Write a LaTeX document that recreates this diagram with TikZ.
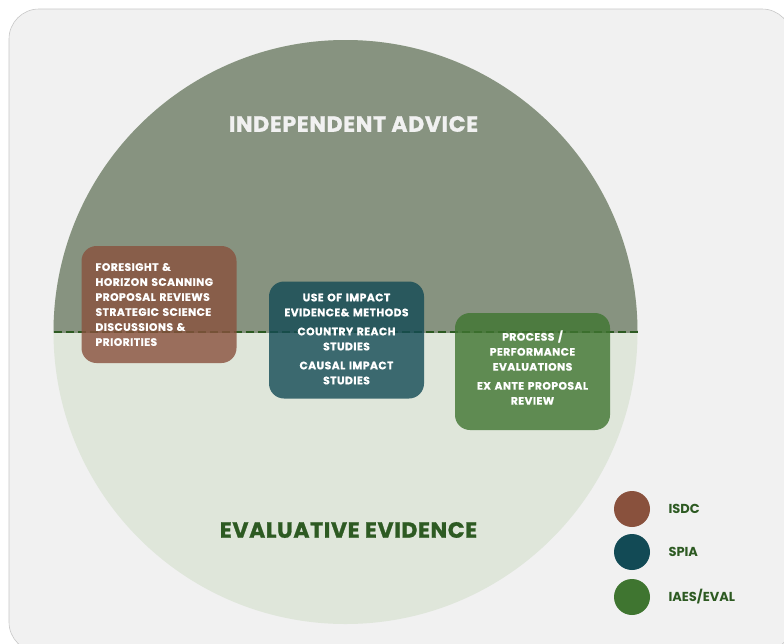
\documentclass[tikz,border=0pt]{standalone}
\usepackage{fontspec}
\setmainfont{Poppins}
\newfontfamily\boxfont[LetterSpace=4, BoldFeatures={FakeBold=0.6}]{Poppins}
\newfontfamily\heavyfont[LetterSpace=3, BoldFeatures={FakeBold=1.2}]{Poppins}
\definecolor{cardbg}{HTML}{F1F1F1}
\definecolor{cardedge}{HTML}{C8C8C8}
\definecolor{sage}{HTML}{879380}
\definecolor{palesage}{HTML}{DFE6DA}
\definecolor{deepgreen}{HTML}{2D5A22}
\definecolor{isdc}{HTML}{89513D}
\definecolor{spia}{HTML}{124A55}
\definecolor{iaes}{HTML}{3F7530}
\begin{document}
\begin{tikzpicture}[x=1pt,y=-1pt,
  box/.style={rounded corners=15pt, fill opacity=0.8,
    minimum width=155pt, minimum height=117pt},
  boxtext/.style={text=white, font=\boxfont\bfseries\fontsize{10.8}{15}\selectfont},
  heading/.style={font=\heavyfont\bfseries\fontsize{22}{24}\selectfont},
  dot/.style={circle, minimum size=36pt, inner sep=0pt},
  key/.style={anchor=west, text=deepgreen, font=\bfseries\fontsize{13}{15}\selectfont},
  divider/.style={draw=deepgreen, line width=2pt, dash pattern=on 8pt off 4pt}]
\useasboundingbox (0,0) rectangle (784,643);
\fill[white] (0,0) rectangle (784,643);
% card
\draw[cardedge, line width=0.6pt, fill=cardbg, rounded corners=30pt] (9,9) rectangle (792,652);
% the two halves of the circle
\fill[palesage] (345.5,332) circle[radius=292];
\begin{scope}
  \clip (0,0) rectangle (784,332);
  \fill[sage] (345.5,332) circle[radius=292];
\end{scope}
\coordinate (dl) at (53.5,332);
\coordinate (dr) at (637.5,332);
\draw[divider] (dl) -- (dr);
% headings
\node[heading, text=cardbg] (advice) at (353.5,124) {INDEPENDENT ADVICE};
\node[heading, text=deepgreen] (evidence) at (348.5,530) {EVALUATIVE EVIDENCE};
% boxes
\node[box, fill=isdc] (bisdc) at (159,304.5) {};
\node[box, fill=spia] (bspia) at (346.5,340) {};
\node[box, fill=iaes] (biaes) at (532.5,371.5) {};
% box texts
\node[boxtext, text width=127pt, align=left] (tbisdc) at (bisdc.center)
  {FORESIGHT \&\\HORIZON SCANNING\\PROPOSAL REVIEWS\\STRATEGIC SCIENCE\\DISCUSSIONS \&\\PRIORITIES};
\node[boxtext, text width=145pt, align=center] (tbspia) at (346.5,339)
  {USE OF IMPACT\\EVIDENCE\& METHODS\\[4pt]COUNTRY REACH\\STUDIES\\[4pt]CAUSAL IMPACT\\STUDIES};
\node[boxtext, text width=145pt, align=center] (tbiaes) at (532.5,367.5)
  {PROCESS /\\PERFORMANCE\\EVALUATIONS\\[4pt]EX ANTE PROPOSAL\\REVIEW};
% legend
\node[dot, fill=isdc] (kisdc) at (632,509) {};
\node[dot, fill=spia] (kspia) at (632,552) {};
\node[dot, fill=iaes] (kiaes) at (632,597) {};
\node[key] (tisdc) at (665,509) {ISDC};
\node[key] (tspia) at (665,552) {SPIA};
\node[key] (tiaes) at (665,597) {IAES/EVAL};
\end{tikzpicture}
\end{document}
